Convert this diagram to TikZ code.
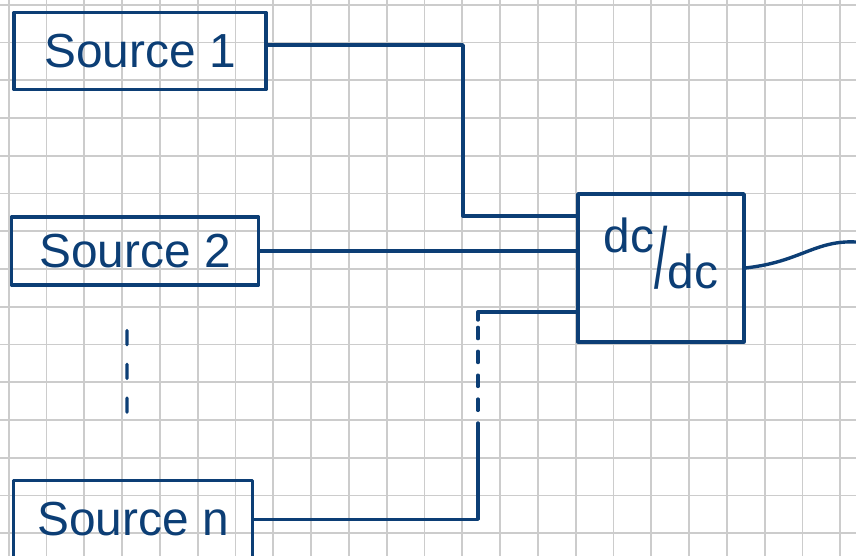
\documentclass[tikz,border=0pt]{standalone}
\usepackage{graphicx}
\usepackage{fontspec}
\setmainfont{Liberation Sans}
\usetikzlibrary{positioning}
\definecolor{ink}{RGB}{12,62,117}
\definecolor{paper}{RGB}{204,204,204}

\begin{document}
\begin{tikzpicture}[x=0.025cm,y=-0.025cm,
 wire/.style={draw=ink,line width=2.4pt,line cap=round,line join=round},
 box/.style={wire,text=ink,font=\fontsize{34}{40}\selectfont,inner sep=0pt}]
\useasboundingbox (0,0) rectangle (856,556);
% squared paper
\foreach \i in {0,...,22}
  \draw[paper,line width=1.2pt] ({8.7+37.8*\i},0) -- ({8.7+37.8*\i},556);
\foreach \j in {0,...,14}
  \draw[paper,line width=1.2pt] (0,{4.7+37.75*\j}) -- (856,{4.7+37.75*\j});

\node[box,minimum width=63mm,minimum height=19.25mm] (src1) at (140,51) {Source 1};
\node[box,minimum width=61.75mm,minimum height=17mm,below=31mm of src1,xshift=-1.25mm] (src2) {Source 2};
\node[box,minimum width=59.75mm,minimum height=19.5mm,below=48mm of src2,xshift=-0.5mm] (srcn) {Source n};
\node[box,minimum width=41.5mm,minimum height=37mm,right=79mm of src2,yshift=-4.25mm] (conv)
  {\raisebox{25.6pt}{dc}\scalebox{1}[1.8]{/}dc\rule[-21pt]{0pt}{21pt}};

% more sources in between
\draw[wire,dash pattern=on 10pt off 14pt] ([xshift=-2mm,yshift=-11mm]src2.south) -- ([xshift=-1.5mm,yshift=16.5mm]srcn.north);

\coordinate (c1) at (463,216);
\coordinate (c3) at (478,423);
\coordinate (c4) at (478,320);
\coordinate (out) at (856,242);
\draw[wire] ([yshift=1.5mm]src1.east) -| (c1) -- (c1 -| conv.west);
\draw[wire] (src2.east) -- (src2.east -| conv.west);
\draw[wire] (srcn.east) -| (c3);
\draw[wire,dash pattern=on 8pt off 9pt,dash phase=8pt] (c3) -- (c4);
\draw[wire] (c4) |- ([yshift=-11mm]conv.west);
\draw[wire] (conv.east) .. controls (800,262) and (815,240) .. (out);
\end{tikzpicture}
\end{document}
